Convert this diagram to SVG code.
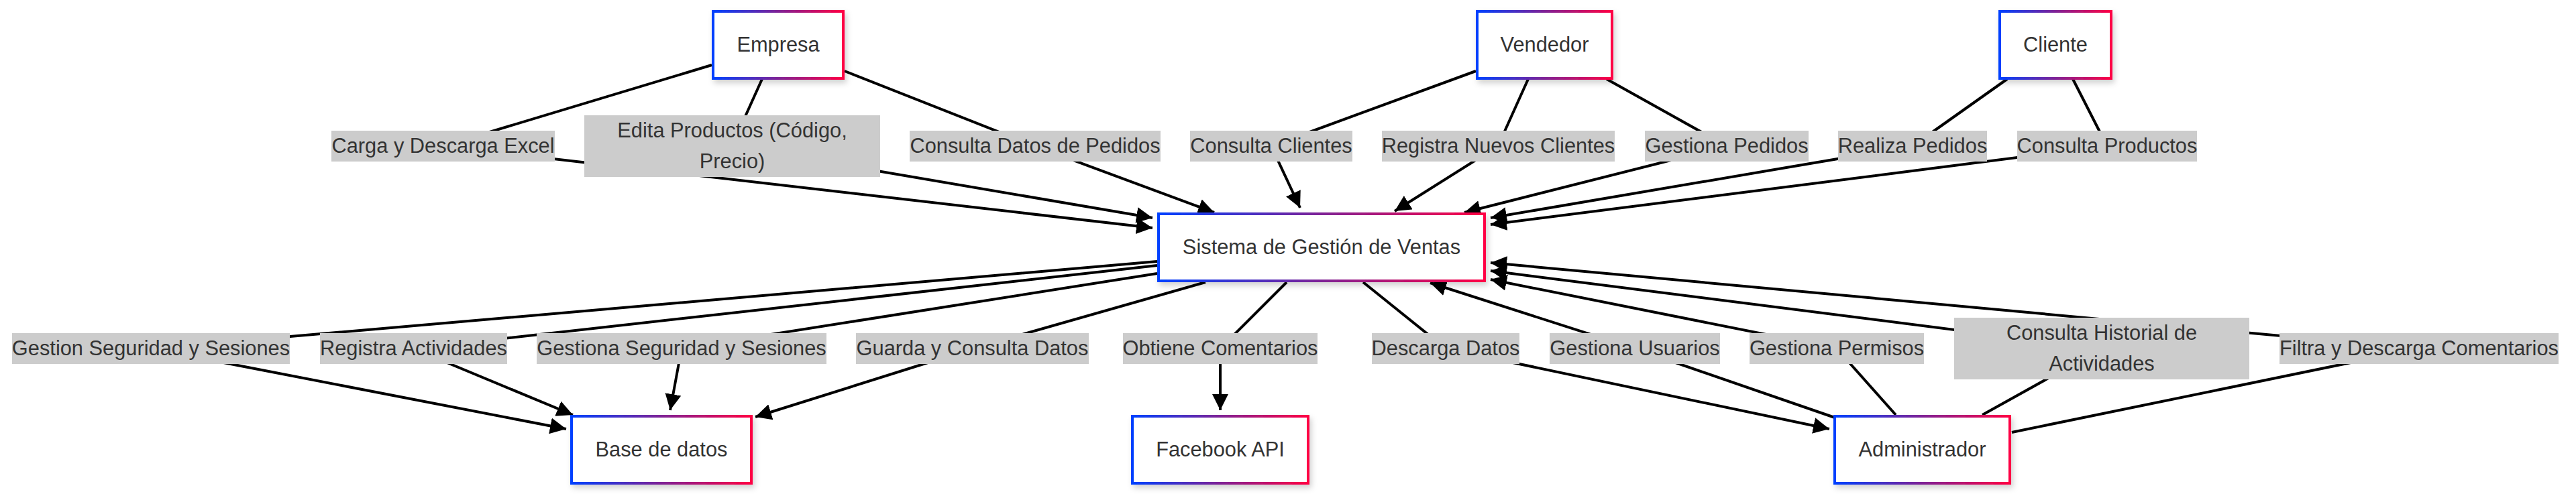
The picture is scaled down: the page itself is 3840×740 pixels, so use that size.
<svg xmlns="http://www.w3.org/2000/svg" width="3840" height="740" viewBox="0 0 3840 740">
<defs>
<linearGradient id="bord" x1="0" y1="0" x2="1" y2="0">
<stop offset="0" stop-color="#0040ff"/>
<stop offset="0.5" stop-color="#7f2396"/>
<stop offset="1" stop-color="#ff0044"/>
</linearGradient>
<filter id="shadow" x="-20%" y="-20%" width="140%" height="150%">
<feDropShadow dx="3" dy="5" stdDeviation="4" flood-color="#000" flood-opacity="0.18"/>
</filter>
<marker id="arrow" viewBox="0 0 10 10" refX="10" refY="5" markerWidth="24" markerHeight="24" markerUnits="userSpaceOnUse" orient="auto">
<path d="M0,0 L10,5 L0,10 z" fill="#000"/>
</marker>
<style>
.node rect{fill:#fff;stroke:url(#bord);stroke-width:4;filter:url(#shadow)}
.node text,.lbl text{font-family:"Liberation Sans",Arial,sans-serif;font-size:30.8px;fill:#333;text-anchor:middle}
.edge{fill:none;stroke:#000;stroke-width:4;stroke-linejoin:round;marker-end:url(#arrow)}
.lbl rect{fill:#cccccc}
</style>
</defs>
<g id="connectors">
<path class="edge" d="M1061,97 L660,218 L1718,340"/>
<path class="edge" d="M1136,118 L1091,218 L1718,325"/>
<path class="edge" d="M1259,106 L1543,218 L1810,317"/>
<path class="edge" d="M2200,106 L1895,218 L1938,310"/>
<path class="edge" d="M2278,118 L2233,218 L2079,315"/>
<path class="edge" d="M2395,118 L2574,218 L2183,317"/>
<path class="edge" d="M2992,118 L2851,218 L2222,325"/>
<path class="edge" d="M3090,118 L3141,218 L2222,335"/>
<path class="edge" d="M1725,390 L225,520 L844,640"/>
<path class="edge" d="M1725,396 L616,520 L854,619"/>
<path class="edge" d="M1725,408 L1016,520 L999,612"/>
<path class="edge" d="M1797,421 L1450,520 L1126,622"/>
<path class="edge" d="M1918,421 L1819,520 L1819,612"/>
<path class="edge" d="M2032,421 L2155,520 L2727,640"/>
<path class="edge" d="M2735,623 L2437,520 L2132,422"/>
<path class="edge" d="M2826,619 L2738,520 L2222,417"/>
<path class="edge" d="M2955,619 L3133,520 L2222,404"/>
<path class="edge" d="M2999,645 L3606,520 L2222,392"/>
</g>
<g id="edge-labels">
<g class="lbl"><rect x="494" y="195" width="333" height="46"/><text x="660.5" y="228">Carga y Descarga Excel</text></g>
<g class="lbl"><rect x="871" y="172" width="441" height="92"/><text x="1091.5" y="205">Edita Productos (Código,</text><text x="1091.5" y="251">Precio)</text></g>
<g class="lbl"><rect x="1356" y="195" width="374" height="46"/><text x="1543" y="228">Consulta Datos de Pedidos</text></g>
<g class="lbl"><rect x="1774" y="195" width="242" height="46"/><text x="1895" y="228">Consulta Clientes</text></g>
<g class="lbl"><rect x="2060" y="195" width="347" height="46"/><text x="2233.5" y="228">Registra Nuevos Clientes</text></g>
<g class="lbl"><rect x="2452" y="195" width="244" height="46"/><text x="2574" y="228">Gestiona Pedidos</text></g>
<g class="lbl"><rect x="2740" y="195" width="222" height="46"/><text x="2851" y="228">Realiza Pedidos</text></g>
<g class="lbl"><rect x="3007" y="195" width="268" height="46"/><text x="3141" y="228">Consulta Productos</text></g>
<g class="lbl"><rect x="18" y="497" width="414" height="46"/><text x="225" y="530">Gestion Seguridad y Sesiones</text></g>
<g class="lbl"><rect x="477" y="497" width="279" height="46"/><text x="616.5" y="530">Registra Actividades</text></g>
<g class="lbl"><rect x="800" y="497" width="432" height="46"/><text x="1016" y="530">Gestiona Seguridad y Sesiones</text></g>
<g class="lbl"><rect x="1276" y="497" width="347" height="46"/><text x="1449.5" y="530">Guarda y Consulta Datos</text></g>
<g class="lbl"><rect x="1674" y="497" width="290" height="46"/><text x="1819" y="530">Obtiene Comentarios</text></g>
<g class="lbl"><rect x="2045" y="497" width="220" height="46"/><text x="2155" y="530">Descarga Datos</text></g>
<g class="lbl"><rect x="2310" y="497" width="254" height="46"/><text x="2437" y="530">Gestiona Usuarios</text></g>
<g class="lbl"><rect x="2608" y="497" width="260" height="46"/><text x="2738" y="530">Gestiona Permisos</text></g>
<g class="lbl"><rect x="2913" y="474" width="440" height="92"/><text x="3133" y="507">Consulta Historial de</text><text x="3133" y="553">Actividades</text></g>
<g class="lbl"><rect x="3398" y="497" width="416" height="46"/><text x="3606" y="530">Filtra y Descarga Comentarios</text></g>
</g>
<g id="node-empresa" class="node"><rect x="1063" y="17" width="194" height="100"/><text x="1160" y="77">Empresa</text></g>
<g id="node-vendedor" class="node"><rect x="2202" y="17" width="201" height="100"/><text x="2302.5" y="77">Vendedor</text></g>
<g id="node-cliente" class="node"><rect x="2981" y="17" width="166" height="100"/><text x="3064" y="77">Cliente</text></g>
<g id="node-sistema" class="node"><rect x="1727" y="319" width="486" height="100"/><text x="1970" y="379">Sistema de Gestión de Ventas</text></g>
<g id="node-bd" class="node"><rect x="852" y="621" width="268" height="100"/><text x="986" y="681">Base de datos</text></g>
<g id="node-facebook" class="node"><rect x="1688" y="621" width="262" height="100"/><text x="1819" y="681">Facebook API</text></g>
<g id="node-admin" class="node"><rect x="2735" y="621" width="261" height="100"/><text x="2865.5" y="681">Administrador</text></g>
</svg>
